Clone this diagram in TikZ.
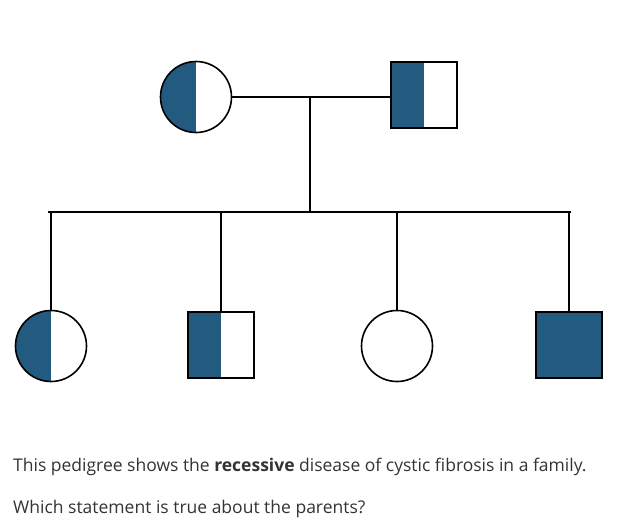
\documentclass[tikz,border=0pt]{standalone}
\usepackage{fontspec}
\setmainfont{Open Sans}
\usepackage{xcolor}
\usepackage{tikz}
\usetikzlibrary{calc, positioning}

\definecolor{cfblue}{HTML}{235A80}
\definecolor{txtgray}{HTML}{333333}

\begin{document}
\begin{tikzpicture}[x=1pt, y=-1pt]
		\tikzstyle{trait}=[line width=1.6pt, color=black]
		\tikzstyle{female}=[trait, draw, fill=white, circle, minimum size=71pt, inner sep=0pt]
		\tikzstyle{male}=[trait, draw, fill=white, rectangle, minimum size=66pt, inner sep=0pt]
		\tikzstyle{carrier}=[path picture={\fill[cfblue] (path picture bounding box.south west) rectangle (path picture bounding box.north);}]
		\tikzstyle{affected}=[fill=cfblue]
		\tikzstyle{question}=[anchor=base west, inner sep=0pt, font=\fontsize{17.5pt}{21pt}\selectfont, color=txtgray]
		\useasboundingbox (0,0) rectangle (623,531);

		% parents
		\node[female, carrier] (mother) at (196,97) {};
		\node[male, carrier] (father) at (424,95) {};
		\coordinate (mate) at (310,97);
		\coordinate (sib) at (310,212);
		\draw[trait] (mother.east) -- (father.west |- mother.east);
		\draw[trait] (mate) -- (sib);

		% children
		\node[female, carrier] (child1) at (51,346) {};
		\node[male, carrier] (child2) at (221,345) {};
		\node[female] (child3) at (397,346) {};
		\node[male, affected] (child4) at (569,345) {};
		\coordinate (sibL) at (49,212);
		\coordinate (sibR) at (570,212);
		\draw[trait, line cap=rect] (sibL) -- (sibR);
		\foreach \c in {child1,child2,child3,child4}
			\draw[trait] (\c.north |- sib) -- (\c.north);

		% question
		\node[question] (line1) at (13,471) {This pedigree shows the \textbf{recessive} disease of cystic fibrosis in a family.};
		\node[question] (line2) at (13,513) {Which statement is true about the parents?};
	\end{tikzpicture}
\end{document}
